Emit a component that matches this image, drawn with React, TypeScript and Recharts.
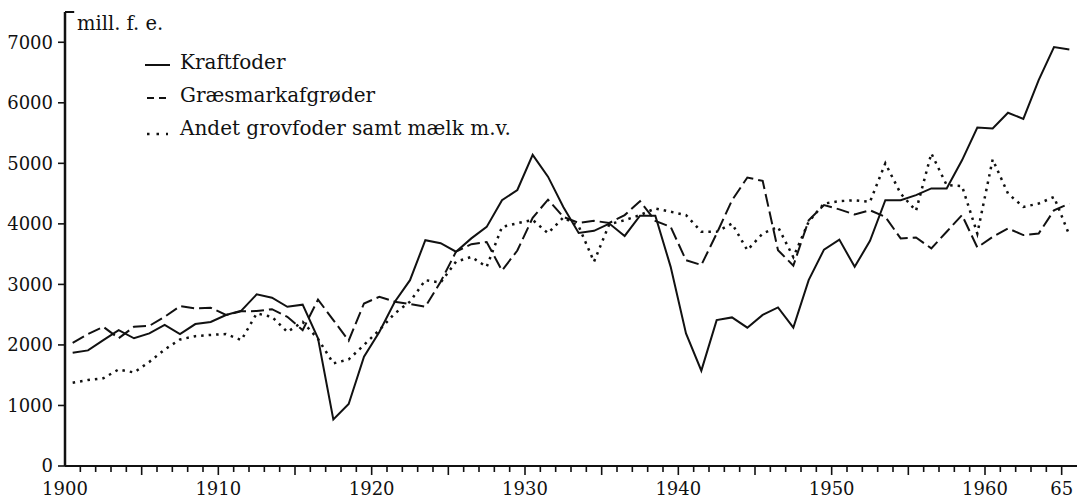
import React from "react";
import {
  LineChart,
  Line,
  XAxis,
  YAxis,
  Legend,
  ReferenceLine,
} from "recharts";

// crop years 1900/01 .. 1965/66
const YEARS = Array.from({ length: 66 }, (_, i) => 1900 + i);

const KRAFTFODER = [
  1870, 1910, 2080, 2245, 2110, 2190, 2330, 2180, 2345, 2380,
  2495, 2565, 2835, 2780, 2630, 2665, 2110, 770, 1025, 1805,
  2215, 2710, 3070, 3730, 3680, 3540, 3760, 3950, 4390, 4560,
  5140, 4780, 4280, 3850, 3885, 4005, 3800, 4135, 4135, 3290,
  2190, 1575, 2410, 2455, 2285, 2495, 2620, 2285, 3070, 3575,
  3740, 3290, 3720, 4390, 4390, 4475, 4585, 4585, 5050, 5590,
  5575, 5835, 5735, 6375, 6920, 6880,
];

const GRAESMARK = [
  2035, 2180, 2300, 2110, 2300, 2315, 2465, 2640, 2605, 2615,
  2495, 2555, 2560, 2590, 2465, 2245, 2750, 2410, 2070, 2685,
  2795, 2715, 2675, 2630, 3045, 3540, 3665, 3700, 3230, 3560,
  4100, 4400, 4115, 4015, 4050, 4015, 4145, 4375, 4050, 3950,
  3400, 3320, 3840, 4390, 4765, 4710, 3565, 3310, 4060, 4310,
  4240, 4155, 4225, 4115, 3760, 3775, 3595, 3870, 4145, 3610,
  3785, 3925, 3815, 3840, 4225, 4335,
];

const ANDET = [
  1375, 1420, 1450, 1595, 1545, 1720, 1925, 2090, 2145, 2165,
  2180, 2080, 2520, 2465, 2215, 2380, 2100, 1695, 1760, 2000,
  2245, 2520, 2715, 3070, 3030, 3375, 3455, 3290, 3950, 4010,
  4065, 3845, 4105, 3960, 3375, 3995, 4060, 4145, 4255, 4200,
  4145, 3870, 3870, 4005, 3565, 3840, 3950, 3450, 4035, 4335,
  4375, 4390, 4365, 5000, 4500, 4215, 5165, 4640, 4625, 3840,
  5065, 4500, 4280, 4335, 4445, 3815,
];

const X_LABEL_YEARS = [1900, 1910, 1920, 1930, 1940, 1950, 1960, 1965];
const X_LABEL_TEXT = ["1900", "1910", "1920", "1930", "1940", "1950", "1960", "65"];
const Y_TICKS = [0, 1000, 2000, 3000, 4000, 5000, 6000, 7000];

const UNIT = "mill. f. e.";
const SERIES = [
  { key: "k", name: "Kraftfoder", dash: undefined, sample: undefined },
  { key: "g", name: "Græsmarkafgrøder", dash: "13 5", sample: "7 5" },
  { key: "a", name: "Andet grovfoder samt mælk m.v.", dash: "2.5 5", sample: "2.5 7" },
];

const FONT = "'DejaVu Serif', serif";
const INK = "#111";

const data = YEARS.map((y, i) => ({
  x: y + 0.5,
  k: KRAFTFODER[i],
  g: GRAESMARK[i],
  a: ANDET[i],
}));

function YearTick({ x, y, payload }: any) {
  const year = payload.value;
  const idx = X_LABEL_YEARS.indexOf(year);
  const major = year % 5 === 0;
  return (
    <g>
      {year > 1900 && (
        <line x1={x} x2={x} y1={y} y2={y + (major ? 9 : 6)} stroke={INK} strokeWidth={1.6} />
      )}
      {idx >= 0 && (
        <text x={x} y={y + 29} textAnchor="middle" fontSize={18} fontFamily={FONT} fill={INK}>
          {X_LABEL_TEXT[idx]}
        </text>
      )}
    </g>
  );
}

function KeyBox() {
  return (
    <svg width={600} height={150} style={{ display: "block" }}>
      <text x={77} y={30} fontSize={19.5} fontFamily={FONT} fill={INK}>
        {UNIT}
      </text>
      {SERIES.map((s, i) => {
        const base = 69 + i * 33;
        const ly = i === 2 ? base - 1 : base - 4;
        return (
          <g key={s.key}>
            <line
              x1={i === 0 ? 145 : 147}
              x2={i === 0 ? 170 : 168}
              y1={ly}
              y2={ly}
              stroke={INK}
              strokeWidth={i === 2 ? 2.5 : 2}
              strokeDasharray={s.sample}
            />
            <text x={180} y={base} fontSize={20} fontFamily={FONT} fill={INK}>
              {s.name}
            </text>
          </g>
        );
      })}
    </svg>
  );
}

export default function App() {
  return (
    <div style={{ position: "absolute", left: 0, top: 0, background: "#fff" }}>
      <LineChart
        width={1085}
        height={500}
        data={data}
        margin={{ top: 12, right: 8, bottom: 0, left: 0 }}
      >
        <XAxis
          type="number"
          dataKey="x"
          domain={[1900, 1966]}
          ticks={YEARS}
          interval={0}
          tickSize={0}
          tickMargin={0}
          tickLine={false}
          tick={<YearTick />}
          height={34}
          axisLine={{ stroke: INK, strokeWidth: 2 }}
        />
        <YAxis
          type="number"
          domain={[0, 7500]}
          ticks={Y_TICKS}
          interval={0}
          width={65}
          tickSize={7}
          tickMargin={5}
          tick={{ fontSize: 18, fontFamily: FONT, fill: INK }}
          tickLine={{ stroke: INK, strokeWidth: 1.6 }}
          axisLine={{ stroke: INK, strokeWidth: 2.5 }}
        />
        <ReferenceLine
          segment={[
            { x: 1900, y: 7500 },
            { x: 1900.6, y: 7500 },
          ]}
          stroke={INK}
          strokeWidth={2}
        />
        <Legend
          layout="vertical"
          align="center"
          verticalAlign="middle"
          wrapperStyle={{ left: 0, top: 0, width: 600, height: 150 }}
          content={() => <KeyBox />}
        />
        {SERIES.map((s) => (
          <Line
            key={s.key}
            type="linear"
            dataKey={s.key}
            name={s.name}
            stroke={INK}
            strokeWidth={s.key === "a" ? 2.5 : 2}
            strokeDasharray={s.dash}
            dot={false}
            activeDot={false}
            isAnimationActive={false}
          />
        ))}
      </LineChart>
    </div>
  );
}
